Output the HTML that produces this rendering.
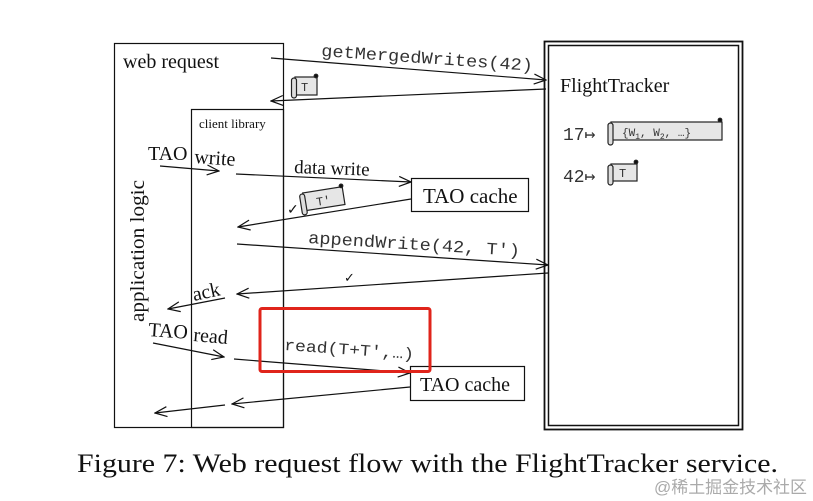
<!DOCTYPE html>
<html><head><meta charset="utf-8"><style>
html,body{margin:0;padding:0;background:#fff;}
svg{display:block}
.s{font-family:"Liberation Serif",serif;fill:#111}
.m{font-family:"Liberation Mono",monospace;fill:#333}
</style></head><body>
<svg width="813" height="501" viewBox="0 0 813 501" xmlns="http://www.w3.org/2000/svg">
<defs>
<marker id="a" markerWidth="14" markerHeight="12" refX="13" refY="6" orient="auto" markerUnits="userSpaceOnUse">
<path d="M1,1 L13,6 L1,11" fill="none" stroke="#111" stroke-width="1.2"/>
</marker>
</defs>
<g stroke="#111" fill="none" stroke-width="1.2">
<rect x="114.5" y="43.5" width="169" height="384"/>
<rect x="191.5" y="109.5" width="92" height="318"/>
<rect x="544.5" y="41.5" width="198" height="388" stroke-width="1.8"/>
<rect x="548.5" y="45.5" width="190" height="380" stroke-width="1.5"/>
<rect x="411.5" y="178.5" width="117" height="33"/>
<rect x="410.5" y="366.5" width="114" height="34"/>
<line x1="271" y1="58" x2="546" y2="80" marker-end="url(#a)"/>
<line x1="546" y1="89" x2="271" y2="101" marker-end="url(#a)"/>
<line x1="160" y1="166" x2="219" y2="171" marker-end="url(#a)"/>
<line x1="236" y1="174" x2="411" y2="182" marker-end="url(#a)"/>
<line x1="411" y1="199" x2="238" y2="227" marker-end="url(#a)"/>
<line x1="237" y1="244" x2="548" y2="265" marker-end="url(#a)"/>
<line x1="548" y1="273" x2="237" y2="294" marker-end="url(#a)"/>
<line x1="225" y1="298" x2="168" y2="309" marker-end="url(#a)"/>
<line x1="153" y1="343" x2="224" y2="357" marker-end="url(#a)"/>
<line x1="234" y1="359" x2="410" y2="373" marker-end="url(#a)"/>
<line x1="410" y1="387" x2="232" y2="404" marker-end="url(#a)"/>
<line x1="225" y1="405" x2="155" y2="413" marker-end="url(#a)"/>
</g>
<rect x="260" y="308.5" width="170" height="63" fill="none" stroke="#e0241b" stroke-width="3" rx="2"/>
<g stroke="#222" stroke-width="1.2">
<rect x="295" y="77" width="22" height="18" fill="#e6e6e6"/>
<rect x="291.5" y="78" width="5" height="20" rx="2.5" fill="#ddd"/>
<circle cx="316" cy="76" r="1.8" fill="#111"/>
<g transform="rotate(-9 322 200)">
<rect x="304" y="190" width="40" height="18" fill="#e6e6e6"/>
<rect x="300.5" y="191" width="5" height="21" rx="2.5" fill="#ddd"/>
<circle cx="343" cy="189" r="1.8" fill="#111"/>
</g>
<rect x="611" y="122" width="111" height="18" fill="#e6e6e6"/>
<rect x="608" y="123" width="5" height="22" rx="2.5" fill="#ddd"/>
<circle cx="720" cy="120" r="1.8" fill="#111"/>
<rect x="611" y="164" width="26" height="17" fill="#e6e6e6"/>
<rect x="608" y="165" width="5" height="20" rx="2.5" fill="#ddd"/>
<circle cx="636" cy="162" r="1.8" fill="#111"/>
</g>
<text class="m" x="301" y="91" font-size="12">T</text>
<text class="m" x="316" y="205" font-size="12" transform="rotate(-9 322 200)">T′</text>
<text class="m" x="622" y="136" font-size="11">{W<tspan font-size="8" dy="3">1</tspan><tspan dy="-3">, W</tspan><tspan font-size="8" dy="3">2</tspan><tspan dy="-3">, …}</tspan></text>
<text class="m" x="619" y="177" font-size="12">T</text>
<text class="s" x="123" y="68" font-size="20">web request</text>
<text class="s" x="199" y="128" font-size="13">client library</text>
<text class="s" x="560" y="92" font-size="20">FlightTracker</text>
<text class="m" x="563" y="140" font-size="18" fill="#222">17↦</text>
<text class="m" x="563" y="182" font-size="18" fill="#222">42↦</text>
<text class="s" x="423" y="203" font-size="21">TAO cache</text>
<text class="s" x="420" y="391" font-size="20">TAO cache</text>
<text class="s" font-size="20" transform="translate(144 322) rotate(-90)" textLength="142" lengthAdjust="spacingAndGlyphs">application logic</text>
<text class="s" x="148" y="160" font-size="20">TAO</text>
<text class="s" x="194" y="163" font-size="20" transform="rotate(4 194 163)">write</text>
<text class="s" x="294" y="173" font-size="19" transform="rotate(2 294 173)">data write</text>
<text class="s" x="148" y="336" font-size="20" transform="rotate(4 148 336)">TAO</text>
<text class="s" x="193" y="341" font-size="20" transform="rotate(5 193 341)">read</text>
<text class="s" x="194" y="301" font-size="20" transform="rotate(-12 194 301)">ack</text>
<text class="s" x="287" y="214" font-size="14">✓</text>
<text class="s" x="344" y="282" font-size="13">✓</text>
<text class="m" x="321" y="56" font-size="17" transform="rotate(4 321 56)" textLength="212" lengthAdjust="spacingAndGlyphs">getMergedWrites(42)</text>
<text class="m" x="308" y="243" font-size="17" transform="rotate(3.5 308 243)" textLength="212" lengthAdjust="spacingAndGlyphs">appendWrite(42, T′)</text>
<text class="m" x="284" y="350" font-size="16" transform="rotate(4 284 350)" textLength="130" lengthAdjust="spacingAndGlyphs">read(T+T′,…)</text>
<text class="s" x="77" y="472" font-size="26" textLength="701" lengthAdjust="spacingAndGlyphs">Figure 7: Web request flow with the FlightTracker service.</text>
<text x="654" y="493" font-size="17" fill="#aaa" font-family="'Liberation Sans','Noto Sans CJK SC',sans-serif" textLength="153" lengthAdjust="spacingAndGlyphs">@稀土掘金技术社区</text>
</svg>
</body></html>
